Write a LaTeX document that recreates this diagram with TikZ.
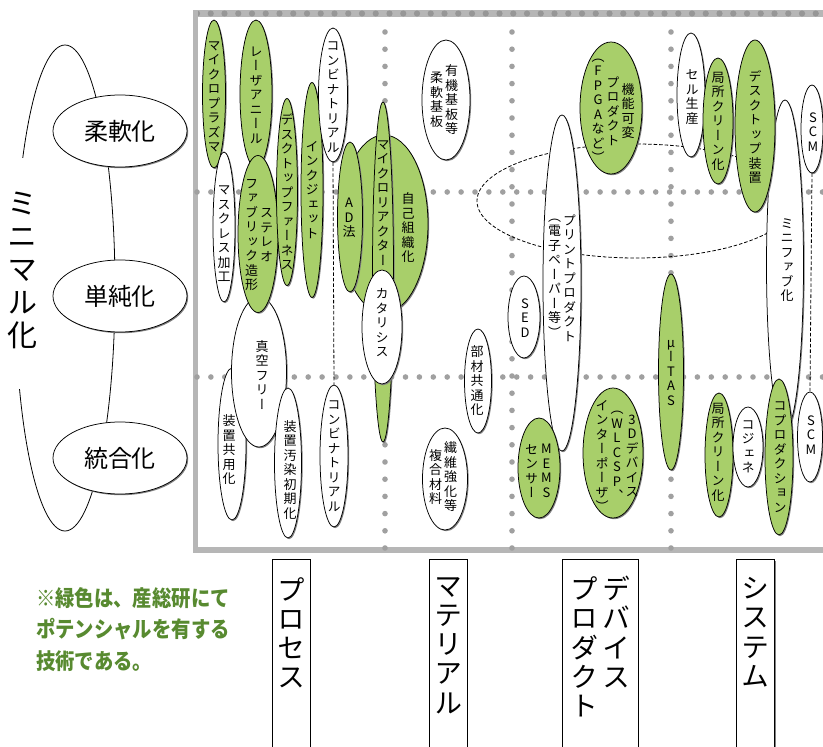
\documentclass[tikz,border=0pt]{standalone}
\usepackage{fontspec}
\usetikzlibrary{shapes.geometric,shadows}
\newfontfamily\jp[RawFeature=+vert]{Noto Sans CJK JP}
\newfontfamily\jph{Noto Sans CJK JP}
\newfontfamily\jpnote[FakeStretch=0.88]{Noto Sans CJK JP}
\definecolor{leaf}{RGB}{168,207,106}
\definecolor{notegreen}{RGB}{88,138,48}
\definecolor{dotc}{RGB}{160,160,160}
\definecolor{dotd}{RGB}{150,150,150}
\definecolor{band}{RGB}{182,182,182}
\makeatletter
\newcommand\vcol[1]{\vtop{\lineskiplimit=-\maxdimen\lineskip=0pt\@tfor\vt@c:=#1\do{\hbox to 1em{\hss\vt@c\hss}}}}
\makeatother
\newcommand\vtwo[2]{$\vcenter{\hbox{\vcol{#2}}}\kern2pt\vcenter{\hbox{\vcol{#1}}}$}
\newcommand\vthree[3]{$\vcenter{\hbox{\vcol{#3}}}\kern2pt\vcenter{\hbox{\vcol{#2}}}\kern2pt\vcenter{\hbox{\vcol{#1}}}$}
\tikzset{
  ell/.style={ellipse, draw=black, line width=0.75pt, inner sep=0pt,
    drop shadow={shadow xshift=1.2pt, shadow yshift=-1.2pt, fill=black!50, opacity=1}},
  gE/.style={ell, fill=leaf},
  wE/.style={ell, fill=white},
  txt/.style={inner sep=0pt, font=\jp\fontsize{13}{14.5}\selectfont},
  big/.style={wE, minimum width=134, minimum height=72, font=\jph\fontsize{24}{24}\selectfont},
  catbox/.style={draw=black, line width=0.8pt, fill=white, minimum height=200, anchor=north, inner sep=0pt,
    drop shadow={shadow xshift=1.2pt, shadow yshift=-1.2pt, fill=black!50, opacity=1}},
  cattxt/.style={inner sep=0pt, anchor=north, font=\jp\fontsize{28}{29.3}\selectfont},
  conn/.style={line width=0.8pt, dash pattern=on 3.5pt off 2pt},
}
\begin{document}
\begin{tikzpicture}[x=1pt,y=-1pt]
\useasboundingbox (0,0) rectangle (823,747);
\fill[white] (0,0) rectangle (823,747);
% frame
\fill[band] (193,10) rectangle (823,17);
\foreach \i in {0,...,45} \fill[dotd] (197+\i*13.75,13.5) circle (3.1pt);
\fill[band] (193,10) rectangle (198,553);
\fill[band] (193,547) rectangle (823,553);
% grid dots
\foreach \yy in {192,377} \foreach \i in {0,...,45} \fill[dotc] (197+\i*13.9,\yy) circle (2.8pt);
\foreach \xx in {385,512,671} \foreach \i in {0,...,30} \fill[dotc] (\xx,32+\i*17.2) circle (2.8pt);
% big dashed ellipse
\draw[conn] (636,201) ellipse [x radius=159, y radius=57];
% left part
\draw[line width=0.8pt] (65,288) ellipse [x radius=50, y radius=243];
\fill[white] (2,158) rectangle (42,389);
\node[inner sep=0pt, font=\jp\fontsize{30}{33}\selectfont] (minimal) at (22,270) {\vcol{ミニマル化}};
\node[big] (flex) at (120,131) {柔軟化};
\node[big] (simple) at (120,296) {単純化};
\node[big] (integ) at (120,458) {統合化};
% ---- process column
\node[wE, minimum width=28, minimum height=152] (share) at (232,444) {};
\node[txt] (share-t) at (229,450) {\vcol{装置共用化}};
\node[wE, minimum width=55, minimum height=150] (vacuum) at (259,372) {};
\node[txt] (vacuum-t) at (262,375) {\vcol{真空フリー}};
\node[wE, minimum width=27, minimum height=150] (contam) at (288,463) {};
\node[txt] (contam-t) at (290,470) {\vcol{装置汚染初期化}};
\node[wE, minimum width=28, minimum height=142] (comb2) at (334,456) {};
\node[txt] (comb2-t) at (334,456) {\vcol{コンビナトリアル}};
\node[gE, minimum width=23, minimum height=148] (plasma) at (214,94) {};
\node[txt] (plasma-t) at (214,97) {\vcol{マイクロプラズマ}};
\node[wE, minimum width=22, minimum height=150] (maskless) at (224,227) {};
\node[txt] (maskless-t) at (224,234) {\vcol{マスクレス加工}};
\node[gE, minimum width=32, minimum height=148] (laser) at (256,94) {};
\node[txt] (laser-t) at (256,95) {\vcol{レーザアニール}};
\node[gE, minimum width=40, minimum height=157] (stereo) at (258,234) {};
\node[txt] (stereo-t) at (259,235) {\vtwo{ステレオ}{ファブリック造形}};
\node[gE, minimum width=21, minimum height=187] (furnace) at (287,192) {};
\node[txt] (furnace-t) at (287,192) {\vcol{デスクトップファーネス}};
\node[gE, minimum width=22, minimum height=215] (inkjet) at (312,190) {};
\node[txt] (inkjet-t) at (312,190) {\vcol{インクジェット}};
\node[wE, minimum width=29, minimum height=134] (comb1) at (333,95) {};
\node[txt] (comb1-t) at (333,97) {\vcol{コンビナトリアル}};
\draw[conn] (comb1.south) -- (comb2.north);
\node[gE, minimum width=88, minimum height=178] (selfasm) at (384,224) {};
\node[txt] (selfasm-t) at (408,228) {\vcol{自己組織化}};
\node[gE, minimum width=25, minimum height=150] (ad) at (350,217) {};
\node[txt] (ad-t) at (349,218) {\vcol{AD法}};
\node[gE, minimum width=21, minimum height=340] (reactor) at (383,272) {};
\node[txt] (reactor-t) at (383,203) {\vcol{マイクロリアクター}};
\node[wE, minimum width=40, minimum height=114] (catalysis) at (382,327) {};
\node[txt] (catalysis-t) at (382,323) {\vcol{カタリシス}};
% ---- material column
\node[wE, minimum width=48, minimum height=120] (organic) at (446,100) {};
\node[txt] (organic-t) at (444,100) {\vtwo{有機基板等}{柔軟基板}};
\node[wE, minimum width=27, minimum height=104] (common) at (478,381) {};
\node[txt] (common-t) at (477,381) {\vcol{部材共通化}};
\node[wE, minimum width=45, minimum height=102] (fiber) at (445,479) {};
\node[txt] (fiber-t) at (443,477) {\vtwo{繊維強化等}{複合材料}};
\node[wE, minimum width=32, minimum height=82] (sed) at (524,317) {};
\node[txt] (sed-t) at (525,318) {\vcol{SED}};
% ---- device / product column
\node[gE, minimum width=62, minimum height=132] (fpga) at (611,108) {};
\node[txt] (fpga-t) at (613,111) {\vthree{機能可変}{プロダクト}{（FPGAなど）}};
\node[wE, minimum width=38, minimum height=336] (print) at (562,283) {};
\node[txt] (print-t) at (562,278) {\vtwo{プリントプロダクト}{（電子ペーパー等）}};
\node[gE, minimum width=42, minimum height=100] (mems) at (539,468) {};
\node[txt] (mems-t) at (539,471) {\vtwo{MEMS}{センサー}};
\node[gE, minimum width=60, minimum height=130] (threeD) at (613,453) {};
\node[txt] (threeD-t) at (617,456) {\vthree{3Dデバイス}{（WLCSP、}{インターポーザ）}};
\node[gE, minimum width=25, minimum height=196] (mtas) at (671,372) {};
\node[txt] (mtas-t) at (671,373) {\vcol{μーTAS}};
% ---- system column
\node[wE, minimum width=28, minimum height=124] (cell) at (691,95) {};
\node[txt] (cell-t) at (692,97) {\vcol{セル生産}};
\node[gE, minimum width=30, minimum height=126] (clean1) at (718,121) {};
\node[txt] (clean1-t) at (718,121) {\vcol{局所クリーン化}};
\node[wE, minimum width=37, minimum height=330] (minifab) at (785,265) {};
\node[txt] (minifab-t) at (787,260) {\vcol{ミニファブ化}};
\node[gE, minimum width=40, minimum height=172] (desk) at (755,126) {};
\node[txt] (desk-t) at (755,127) {\vcol{デスクトップ装置}};
\node[wE, minimum width=22, minimum height=88] (scm1) at (812,129) {};
\node[txt] (scm1-t) at (813,132) {\vcol{SCM}};
\node[wE, minimum width=25, minimum height=90] (scm2) at (810,437) {};
\node[txt] (scm2-t) at (811,435) {\vcol{SCM}};
\draw[conn] (scm1.south) -- (scm2.north);
\node[gE, minimum width=28, minimum height=124] (clean2) at (719,455) {};
\node[txt] (clean2-t) at (718,452) {\vcol{局所クリーン化}};
\node[wE, minimum width=30, minimum height=80] (cogen) at (748,447) {};
\node[txt] (cogen-t) at (748,447) {\vcol{コジェネ}};
\node[gE, minimum width=28, minimum height=156] (coprod) at (779,457) {};
\node[txt] (coprod-t) at (780,457) {\vcol{コプロダクション}};
% ---- category boxes
\node[catbox, minimum width=38] (bP) at (291,559) {};
\node[cattxt] (bP-t) at (291,577) {\vcol{プロセス}};
\node[catbox, minimum width=38] (bM) at (448,559) {};
\node[cattxt] (bM-t) at (448,577) {\vcol{マテリアル}};
\node[catbox, minimum width=76] (bD) at (600,559) {};
\node[cattxt] (bD-t) at (600,576) {\hbox{\vcol{プロダクト}\kern4pt\vcol{デバイス}}};
\node[catbox, minimum width=38] (bS) at (755.5,559) {};
\node[cattxt] (bS-t) at (755.5,577) {\vcol{システム}};
% ---- note
\node[anchor=north west, inner sep=0pt, align=left, text=notegreen,
  font=\jpnote\bfseries\fontsize{22}{31.5}\selectfont] (note) at (36,587)
  {※緑色は、産総研にて\\ポテンシャルを有する\\技術である。};
\end{tikzpicture}
\end{document}
